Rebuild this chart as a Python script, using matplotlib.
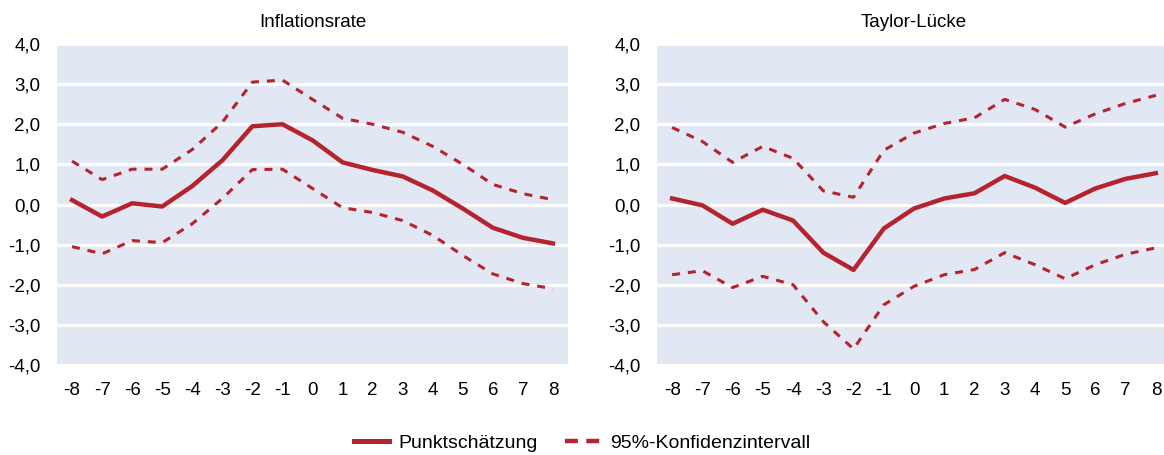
import numpy as np
import matplotlib
matplotlib.use("Agg")
import matplotlib.pyplot as plt
from matplotlib.lines import Line2D
from matplotlib.ticker import FuncFormatter

# quarters relative to the shock
quarters = list(range(-8, 9))

# Inflationsrate
infl_point = [0.11, -0.30, 0.03, -0.05, 0.46, 1.10, 1.95, 2.00, 1.60,
              1.05, 0.86, 0.70, 0.35, -0.10, -0.58, -0.83, -0.97]
infl_upper = [1.08, 0.62, 0.88, 0.88, 1.37, 2.05, 3.05, 3.10, 2.62,
              2.15, 2.00, 1.80, 1.45, 1.00, 0.50, 0.27, 0.12]
infl_lower = [-1.05, -1.23, -0.90, -0.95, -0.48, 0.15, 0.87, 0.88, 0.40,
              -0.08, -0.20, -0.40, -0.77, -1.27, -1.73, -1.97, -2.10]

# Taylor-Lücke
taylor_point = [0.15, -0.02, -0.48, -0.13, -0.40, -1.20, -1.63, -0.60, -0.10,
                0.15, 0.28, 0.71, 0.42, 0.04, 0.40, 0.64, 0.78]
taylor_upper = [1.92, 1.57, 1.05, 1.45, 1.15, 0.34, 0.18, 1.35, 1.78,
                2.02, 2.16, 2.62, 2.37, 1.93, 2.26, 2.52, 2.72]
taylor_lower = [-1.75, -1.65, -2.07, -1.79, -2.00, -2.92, -3.60, -2.50, -2.04,
                -1.75, -1.62, -1.20, -1.50, -1.85, -1.50, -1.24, -1.08]

titles = ["Inflationsrate", "Taylor-Lücke"]
yticks = [-4, -3, -2, -1, 0, 1, 2, 3, 4]

plt.rcParams['font.family'] = ['Liberation Sans', 'DejaVu Sans']
plt.rcParams['axes.unicode_minus'] = False

red = '#B5232E'
bg = '#E1E8F3'

fig = plt.figure(figsize=(11.64, 4.55), dpi=100)
ax1 = fig.add_axes([57 / 1164, 1 - 365 / 455, 511 / 1164, 321 / 455])
ax2 = fig.add_axes([657 / 1164, 1 - 365 / 455, 514 / 1164, 321 / 455])

panels = [(ax1, infl_point, infl_upper, infl_lower),
          (ax2, taylor_point, taylor_upper, taylor_lower)]

for i, (ax, point, upper, lower) in enumerate(panels):
    ax.set_facecolor(bg)
    for s in ax.spines.values():
        s.set_visible(False)
    ax.plot(quarters, point, color=red, lw=3.2, solid_joinstyle='round', zorder=3)
    ax.plot(quarters, upper, color=red, lw=2.2, dashes=(2.6, 2.6), zorder=3)
    ax.plot(quarters, lower, color=red, lw=2.2, dashes=(2.6, 2.6), zorder=3)
    ax.set_xlim(-8.5, 8.5)
    ax.set_ylim(-4, 4)
    ax.set_xticks(quarters)
    ax.set_yticks(yticks)
    ax.yaxis.set_major_formatter(FuncFormatter(lambda v, p: f"{v:.1f}".replace('.', ',')))
    ax.grid(axis='y', color='white', lw=2.2)
    ax.set_axisbelow(True)
    ax.tick_params(length=0, labelsize=13.5)
    ax.tick_params(axis='y', pad=12)
    ax.tick_params(axis='x', pad=12)
    ax.set_title(titles[i], fontsize=13.5, pad=12)

# legend proxies (legend dashes are longer than in the plot)
handles = [Line2D([], [], color=red, lw=3.6),
           Line2D([], [], color=red, lw=3.2, dashes=(2.9, 1.9))]
labels = ['Punktschätzung', '95%-Konfidenzintervall']
fig.legend(handles, labels, loc='center', bbox_to_anchor=(0.5, 12 / 455),
           ncol=2, frameon=False, fontsize=14, handlelength=1.8,
           handletextpad=0.5, columnspacing=1.4)

fig.savefig('out.png', dpi=100)
